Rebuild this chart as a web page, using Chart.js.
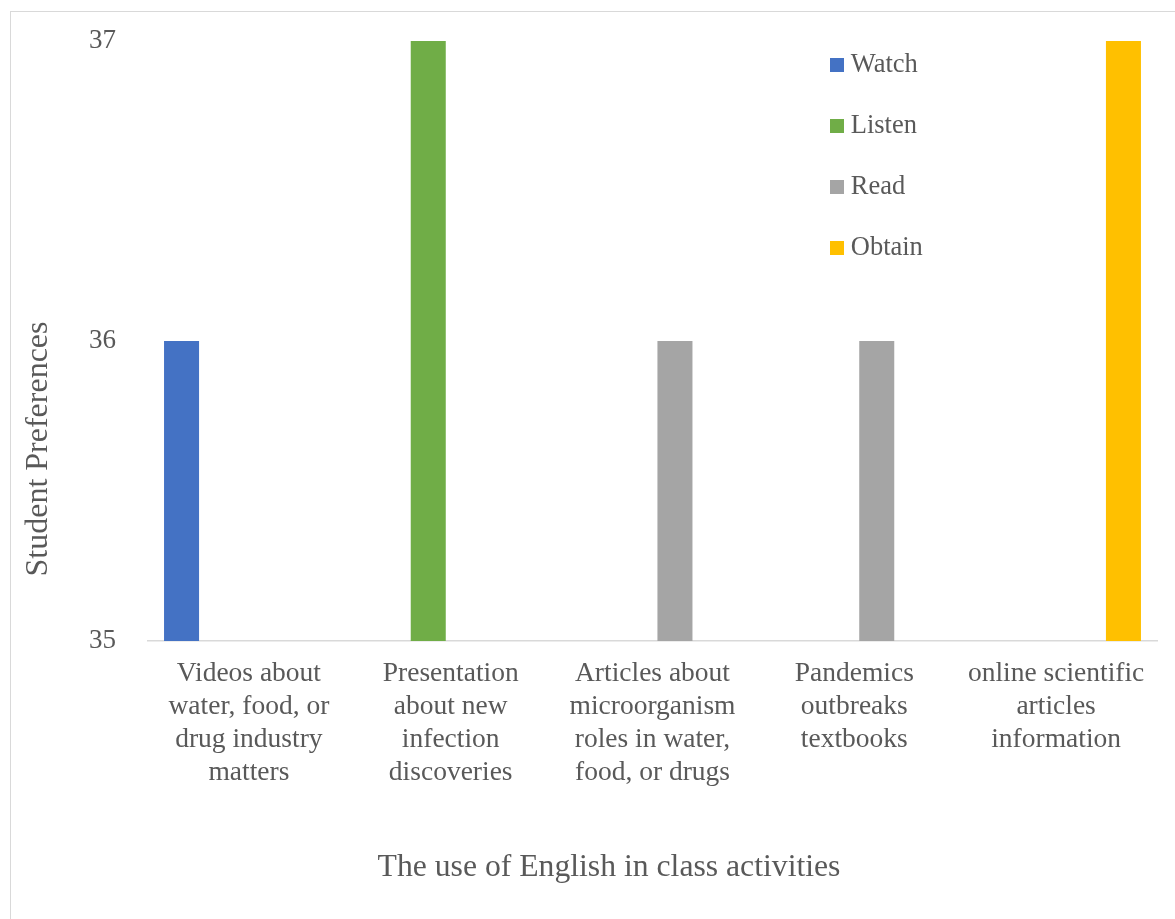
<!DOCTYPE html>
<html>
<head>
<meta charset="utf-8">
<script src="https://cdn.jsdelivr.net/npm/chart.js@4/dist/chart.umd.min.js"></script>
<style>
  html, body { margin: 0; padding: 0; background: #ffffff; overflow: hidden; }
  #frame {
    position: absolute; left: 10px; top: 11px; width: 1300px; height: 1000px;
    border-left: 1px solid #d9d9d9; border-top: 1px solid #d9d9d9;
  }
  #wrap { position: absolute; left: 0; top: 0; width: 1175px; height: 919px; }
</style>
</head>
<body>
<div id="frame"></div>
<div id="wrap"><canvas id="chart" width="1175" height="919"></canvas></div>
<script>
// Activity categories (multi-line axis labels)
const categories = [
  ['Videos about', 'water, food, or', 'drug industry', 'matters'],
  ['Presentation', 'about new', 'infection', 'discoveries'],
  ['Articles about', 'microorganism', 'roles in water,', 'food, or drugs'],
  ['Pandemics', 'outbreaks', 'textbooks'],
  ['online scientific', 'articles', 'information']
];

// Series values
const watchValues  = [36, null, null, null, null];
const listenValues = [null, 37, null, null, null];
const readValues   = [null, null, 36, 36, null];
const obtainValues = [null, null, null, null, 37];

const seriesNames = ['Watch', 'Listen', 'Read', 'Obtain'];
const seriesColors = ['#4472C4', '#70AD47', '#A5A5A5', '#FFC000'];

// Y axis range and ticks
const yMin = 35;
const yMax = 37;
const yStep = 1;

const xTitle = 'The use of English in class activities';
const yTitle = 'Student Preferences';

const textColor = '#595959';
const serif = '"Liberation Serif", "Times New Roman", serif';

// small square swatches for the legend
function swatch(color) {
  const c = document.createElement('canvas');
  c.width = 14; c.height = 14;
  const g = c.getContext('2d');
  g.fillStyle = color;
  g.fillRect(0, 0, 14, 14);
  return c;
}

// place the legend in the upper right of the plot
const legendPlacer = {
  id: 'legendPlacer',
  afterLayout(chart) {
    const lg = chart.legend;
    if (!lg) return;
    const w = lg.width, h = lg.height;
    lg.left = 802; lg.top = 17;
    lg.right = lg.left + w; lg.bottom = lg.top + h;
  }
};

// axis titles
const axisTitles = {
  id: 'axisTitles',
  afterDraw(chart) {
    const ctx = chart.ctx;
    ctx.save();
    ctx.fillStyle = textColor;
    ctx.textAlign = 'center';
    ctx.textBaseline = 'middle';
    ctx.font = '31.7px ' + serif;
    ctx.fillText(xTitle, 609, 868);
    ctx.font = '32px ' + serif;
    ctx.translate(39, 449);
    ctx.rotate(-Math.PI / 2);
    ctx.fillText(yTitle, 0, 0);
    ctx.restore();
  }
};

const seriesValues = [watchValues, listenValues, readValues, obtainValues];

new Chart(document.getElementById('chart'), {
  type: 'bar',
  data: {
    labels: categories,
    datasets: seriesNames.map((name, i) => ({
      label: name,
      data: seriesValues[i],
      backgroundColor: seriesColors[i],
      borderWidth: 0,
      base: yMin,
      categoryPercentage: 0.89,
      barPercentage: 0.78
    }))
  },
  options: {
    responsive: false,
    animation: false,
    layout: { padding: { left: 0, right: 18, top: 41, bottom: 0 } },
    plugins: {
      legend: {
        position: 'chartArea',
        align: 'start',
        labels: {
          font: { family: serif, size: 26.5 },
          color: textColor,
          padding: 34.5,
          usePointStyle: true,
          boxWidth: 1,
          generateLabels(chart) {
            return chart.data.datasets.map((ds, i) => ({
              text: ds.label,
              fillStyle: ds.backgroundColor,
              strokeStyle: ds.backgroundColor,
              lineWidth: 0,
              pointStyle: swatch(ds.backgroundColor),
              hidden: false,
              datasetIndex: i,
              fontColor: textColor
            }));
          }
        }
      },
      tooltip: { enabled: false }
    },
    scales: {
      x: {
        grid: { display: false, drawTicks: false },
        border: { display: true, color: '#D9D9D9', width: 1.5 },
        ticks: {
          color: textColor,
          font: { family: serif, size: 27.5, lineHeight: 1.2 },
          padding: 16,
          autoSkip: false,
          maxRotation: 0,
          minRotation: 0
        },
        afterFit(scale) { scale.height = 278; }
      },
      y: {
        min: yMin,
        max: yMax,
        grid: { display: false, drawTicks: true, tickLength: 28 },
        border: { display: false },
        ticks: {
          stepSize: yStep,
          color: textColor,
          font: { family: serif, size: 27 },
          padding: 4
        },
        afterFit(scale) { scale.width = 148; }
      }
    }
  },
  plugins: [legendPlacer, axisTitles]
});
</script>
</body>
</html>
